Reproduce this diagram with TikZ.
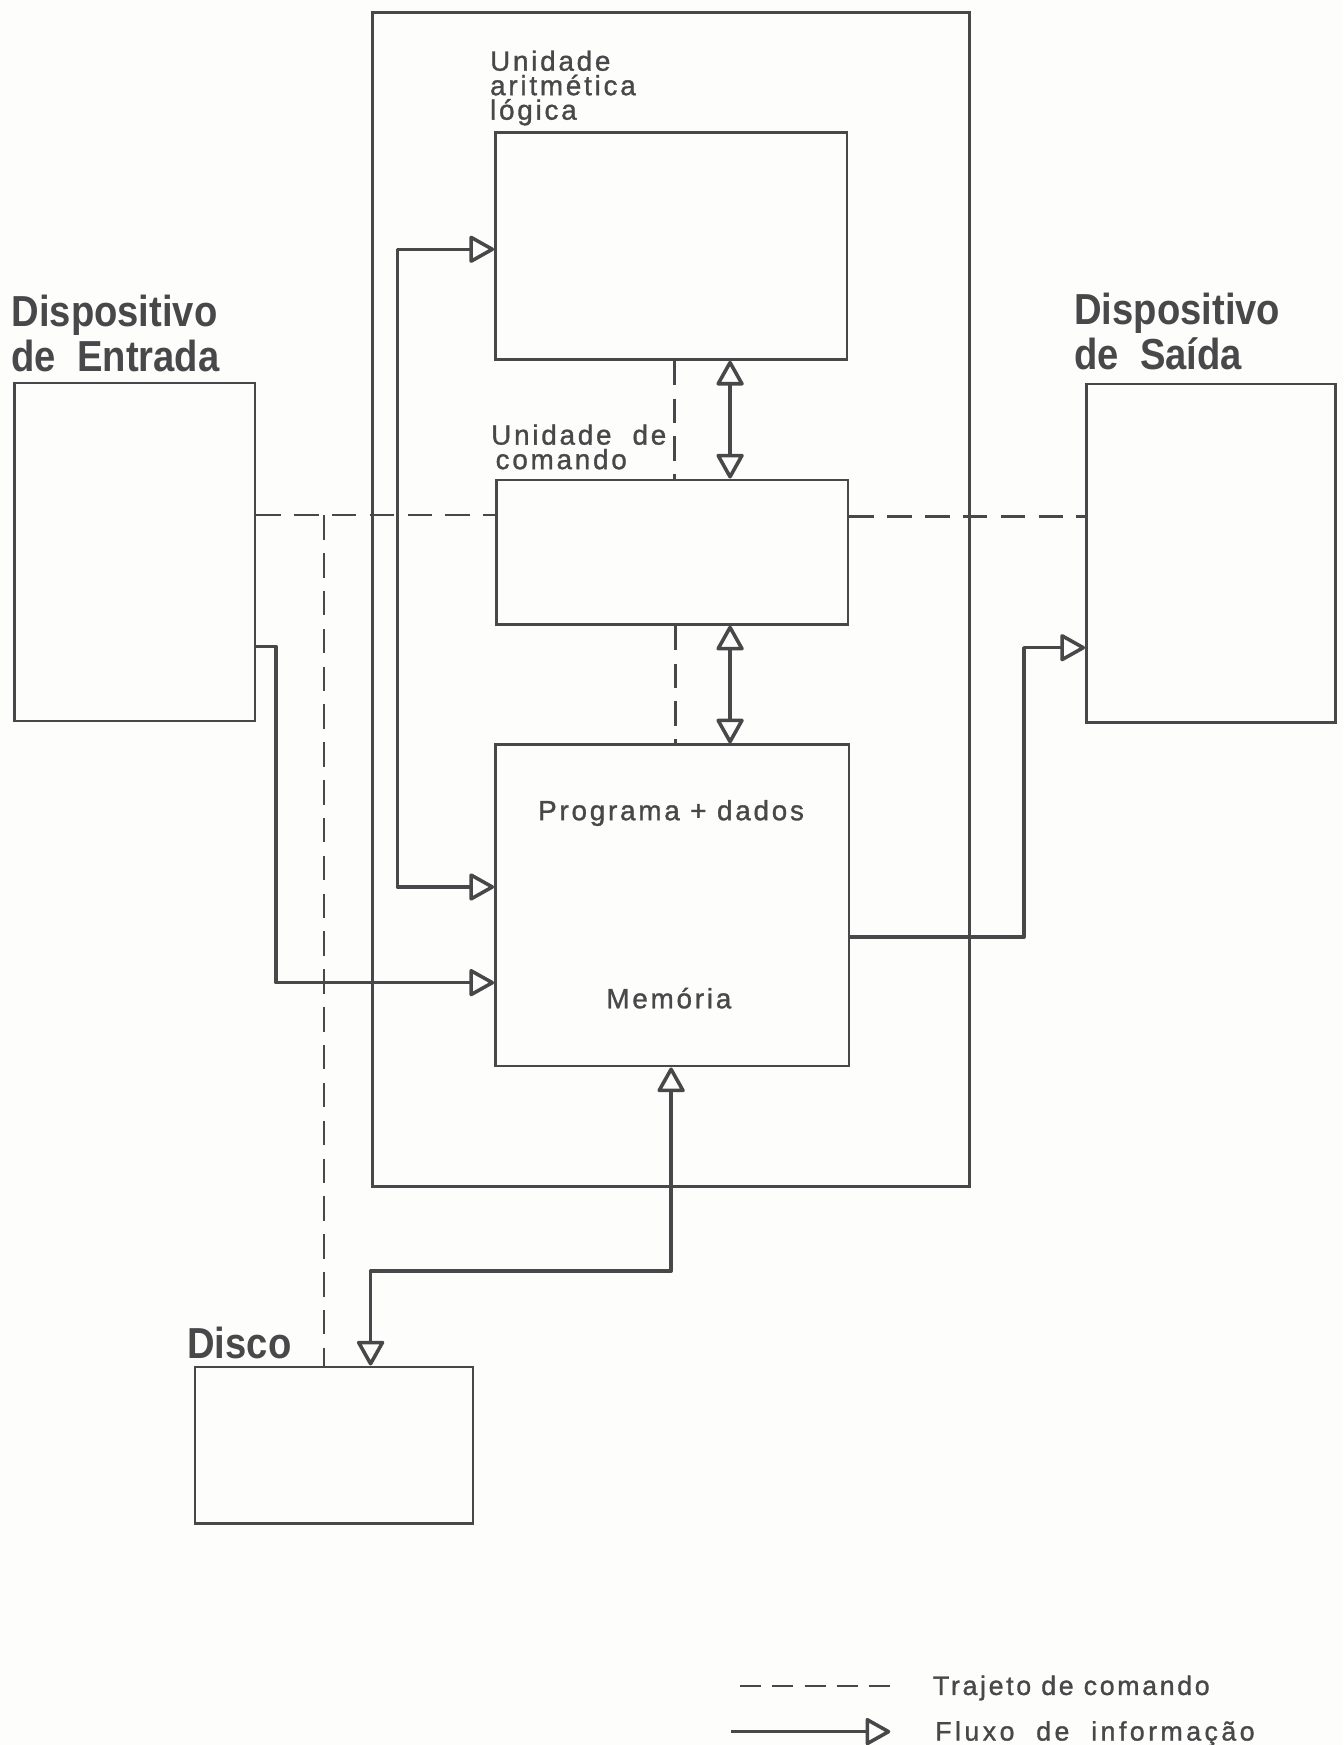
\documentclass[tikz,border=0pt]{standalone}
\usepackage{fontspec}
\setmainfont{Liberation Sans}
\newfontfamily\titulo[FakeStretch=0.88]{Liberation Sans}
\newfontfamily\letreiro[LetterSpace=10, FakeBold=1.2]{Liberation Sans}
\usetikzlibrary{arrows.meta}
\definecolor{tinta}{RGB}{72,72,74}
\definecolor{papel}{RGB}{253,253,251}

\tikzset{
    bloco/.style={draw=tinta, line width=1.1pt, rectangle, inner sep=0pt, anchor=north west},
    titulo/.style={text=tinta, inner sep=0pt, align=left, font=\titulo\bfseries\fontsize{19.5}{20}\selectfont},
    rotulo/.style={text=tinta, inner sep=0pt, align=left, font=\letreiro\fontsize{12.5}{11}\selectfont},
    legenda/.style={rotulo, font=\letreiro\fontsize{12}{12}\selectfont},
    trajeto/.style={draw=tinta, line width=1.1pt, dash pattern=on 11pt off 6pt},
    ponta/.tip={Triangle[open, round, length=12pt, width=13pt]},
    fluxo/.style={draw=tinta, line width=1.6pt, line join=round, -ponta},
    ambos/.style={fluxo, ponta-ponta}
}

\begin{document}
\begin{tikzpicture}[x=0.5pt, y=-0.5pt]
    \fill[papel] (0,0) rectangle (1207,1568);
    \useasboundingbox (0,0) rectangle (1207,1568);
    \path node[bloco, line width=1.4pt, minimum width=268.5pt, minimum height=527.5pt] (ucp) at (333,10) {}
        node[bloco, minimum width=158pt, minimum height=102pt] (ula) at (444,118) {}
        node[bloco, minimum width=158pt, minimum height=65pt] (cmd) at (445,430) {}
        node[bloco, minimum width=159pt, minimum height=144.5pt] (mem) at (444,668) {}
        node[bloco, minimum width=108pt, minimum height=152pt] (ent) at (12,343) {}
        node[bloco, minimum width=112pt, minimum height=152pt] (sai) at (975,344) {}
        node[bloco, minimum width=125pt, minimum height=70.5pt] (disco) at (174,1227) {};
    \path node[titulo, anchor=north west] (entlbl) at (10,265) {Dispositivo\\de\ \ Entrada}
        node[titulo, anchor=north west] (sailbl) at (965,263) {Dispositivo\\de\ \ Saída}
        node[titulo, anchor=base west] (discolbl) at (168,1221) {Disco}
        node[rotulo, anchor=north west] (ulalbl) at (440,45) {Unidade\\aritmética\\lógica}
        node[rotulo, anchor=north west] (cmdlbl) at (441,381) {Unidade\ \ de\\\hspace{2pt}comando}
        node[rotulo, anchor=base] (memlbl1) at (603,737) {Programa + dados}
        node[rotulo, anchor=base] (memlbl2) at (601,906) {Memória};
    % trajeto de comando
    \coordinate (t1) at (291,463);
    \coordinate (t2) at (0,464);
    \coordinate (t3) at (606,0);
    \coordinate (t4) at (607,0);
    \draw[trajeto] (t1 -| ent.east) -- (t1 -| cmd.west);
    \draw[trajeto] (t1) -- (t1 |- disco.north);
    \draw[trajeto] (t2 -| cmd.east) -- (t2 -| sai.west);
    \draw[trajeto] (t3 |- ula.south) -- (t3 |- cmd.north);
    \draw[trajeto] (t4 |- cmd.south) -- (t4 |- mem.north);
    % fluxo de informacao
    \coordinate (u1) at (656,0);
    \draw[ambos] (u1 |- ula.south) -- (u1 |- cmd.north);
    \draw[ambos] (u1 |- cmd.south) -- (u1 |- mem.north);
    \coordinate (a1) at (357,224);
    \coordinate (a2) at (357,797);
    \draw[ambos] (a1 -| ula.west) -- (a1) -- (a2) -- (a2 -| mem.west);
    \coordinate (e1) at (248,581);
    \coordinate (e2) at (248,883);
    \draw[fluxo] (e1 -| ent.east) -- (e1) -- (e2) -- (e2 -| mem.west);
    \coordinate (s1) at (920,842);
    \coordinate (s2) at (920,582);
    \draw[fluxo] (s1 -| mem.east) -- (s1) -- (s2) -- (s2 -| sai.west);
    \coordinate (d1) at (603,1142);
    \coordinate (d2) at (333,1142);
    \draw[ambos] (d1 |- mem.south) -- (d1) -- (d2) -- (d2 |- disco.north);
    % legenda
    \coordinate (l1) at (665,1515);
    \coordinate (l2) at (800,1515);
    \coordinate (l3) at (657,1556);
    \coordinate (l4) at (800,1556);
    \draw[trajeto, dash pattern=on 9.5pt off 5pt] (l1) -- (l2);
    \draw[fluxo] (l3) -- (l4);
    \path node[legenda, anchor=base west] (leg1) at (838,1523) {Trajeto de comando}
        node[legenda, anchor=base west] (leg2) at (840,1564) {\addfontfeature{LetterSpace=13}Fluxo\ \ de\ \ informação};
\end{tikzpicture}
\end{document}
